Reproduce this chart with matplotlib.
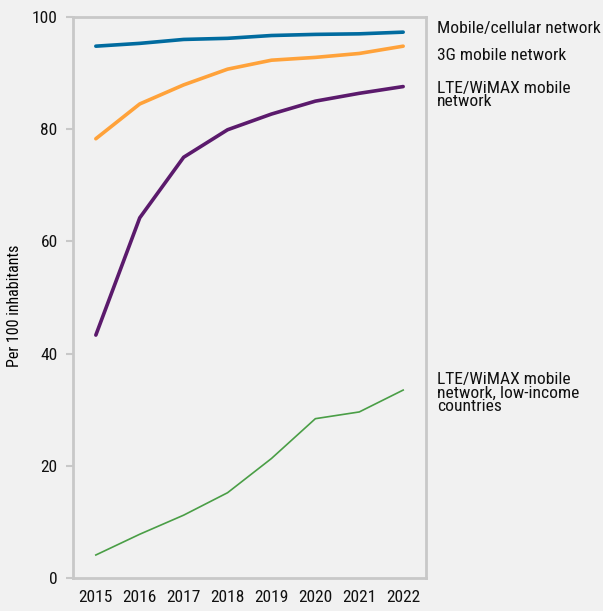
import matplotlib
matplotlib.use("Agg")
import matplotlib.pyplot as plt
from matplotlib import font_manager

years = ["2015", "2016", "2017", "2018", "2019", "2020", "2021", "2022"]
mobile_cellular = [94.8, 95.3, 96.0, 96.2, 96.7, 96.9, 97.0, 97.3]
mobile_3g = [78.3, 84.5, 87.9, 90.7, 92.3, 92.8, 93.5, 94.8]
lte_wimax = [43.3, 64.2, 75.0, 79.9, 82.7, 85.0, 86.4, 87.6]
lte_low_income = [4.1, 7.8, 11.2, 15.2, 21.3, 28.4, 29.6, 33.5]

series_labels = [
    "Mobile/cellular network",
    "3G mobile network",
    "LTE/WiMAX mobile\nnetwork",
    "LTE/WiMAX mobile\nnetwork, low-income\ncountries",
]

# pick a narrow font if there is one
names = {f.name for f in font_manager.fontManager.ttflist}
narrow = None
for cand in ["Liberation Sans Narrow", "Roboto Condensed", "Open Sans Condensed",
             "Noto Sans Condensed", "DejaVu Sans Condensed"]:
    if cand in names:
        narrow = cand
        break
if narrow:
    plt.rcParams["font.family"] = [narrow, "DejaVu Sans"]
    lab_size = 12.6
    tick_size = 12.5
    ylab_size = 11.5
else:
    plt.rcParams["font.family"] = ["Open Sans", "DejaVu Sans"]
    lab_size = 10.5
    tick_size = 11
    ylab_size = 10

bg = "#f1f1f1"
grey = "#c8c8c8"

fig = plt.figure(figsize=(6.03, 6.11), dpi=100, facecolor=bg)
ax = fig.add_axes([73 / 603, 1 - 578 / 611, (426 - 73) / 603, (578 - 17) / 611])
ax.set_facecolor(bg)

x = list(range(len(years)))
ax.plot(x, mobile_cellular, color="#006b9f", lw=2.6, solid_capstyle="round")
ax.plot(x, mobile_3g, color="#ffa23a", lw=2.6, solid_capstyle="round")
ax.plot(x, lte_wimax, color="#5b1a6c", lw=2.6, solid_capstyle="round")
ax.plot(x, lte_low_income, color="#4a9e46", lw=1.2)

ax.set_xlim(-0.52, 7.52)
ax.set_ylim(0, 100)
ax.set_yticks([0, 20, 40, 60, 80, 100])
ax.set_xticks(x)
ax.set_xticklabels(years)
ax.tick_params(axis="both", labelsize=tick_size, labelcolor="#111111")
ax.tick_params(axis="y", color=grey, length=5, width=1.5, pad=6)
ax.tick_params(axis="x", length=0, pad=9)
for s in ax.spines.values():
    s.set_color(grey)
    s.set_linewidth(2)
ax.set_ylabel("Per 100 inhabitants", fontsize=ylab_size)
ax.yaxis.set_label_coords(-0.145, 0.485)

label_y = [28, 55, 95, 393]
for lab, py in zip(series_labels, label_y):
    fig.text(437 / 603, 1 - py / 611, lab, fontsize=lab_size, va="center", ha="left",
             linespacing=0.85, color="#111111")

fig.savefig("out.png", dpi=100, facecolor=bg)
